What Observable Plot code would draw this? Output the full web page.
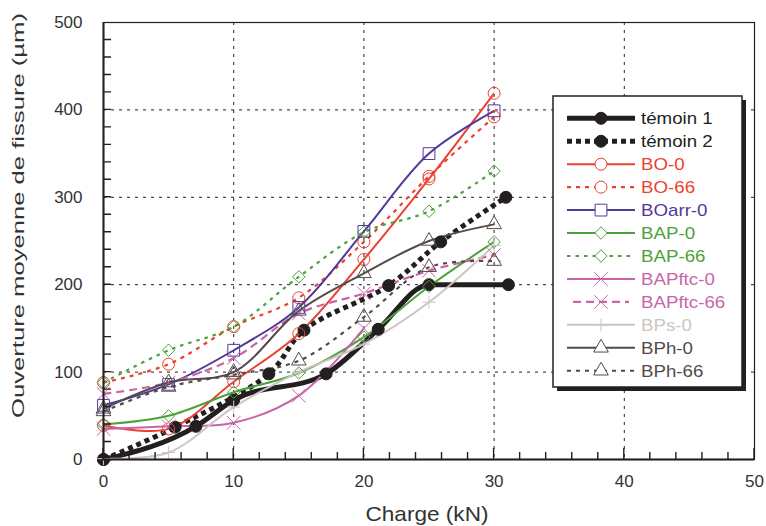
<!DOCTYPE html>
<html><head><meta charset="utf-8">
<script src="https://cdn.jsdelivr.net/npm/d3@7"></script>
<script src="https://cdn.jsdelivr.net/npm/@observablehq/plot@0.6"></script>
<style>
body{margin:0;background:#fff}
#chart{position:relative;width:766px;height:526px}
</style>
</head><body><div id="chart"></div>
<script>
// ---- data ----
const loads = [0, 5, 10, 15, 20, 25, 30];
const temoin1X = [0, 7.1, 10, 17.1, 21.1, 25, 31.1];
const temoin1Y = [0, 38, 68, 98, 149, 200, 200];
const temoin2X = [0, 5.5, 12.7, 15.4, 21.9, 25.9, 30.9];
const temoin2Y = [0, 37, 98, 148, 199, 249, 300];
const bo0 = [39, 35, 89, 144, 229, 321, 419];
const bo66 = [88, 109, 152, 185, 249, 324, 392];
const boarr0 = [62, 86, 125, 174, 261, 350, 399];
const bap0 = [40, 50, 77, 99, 140, 198, 249];
const bap66 = [88, 125, 152, 209, 260, 284, 330];
const bapftc0X = [0, 5, 10, 15, 20];
const bapftc0 = [35, 38, 42, 73, 150];
const bapftc66 = [75, 88, 116, 167, 190, 216, 234];
const bps0 = [1, 8, 60, 100, 132, 180, 245];
const bph0 = [58, 88, 100, 170, 213, 250, 269];
const bph66 = [55, 83, 97, 113, 163, 220, 227];
const seriesNames = ["témoin 1","témoin 2","BO-0","BO-66","BOarr-0","BAP-0","BAP-66","BAPftc-0","BAPftc-66","BPs-0","BPh-0","BPh-66"];
const xTicks = [0, 10, 20, 30, 40, 50];
const yTicks = [0, 100, 200, 300, 400, 500];
const xMinorTicks = [2, 4, 6, 8, 12, 14, 16, 18, 22, 24, 26, 28, 32, 34, 36, 38, 42, 44, 46, 48];
const yMinorTicks = [20, 40, 60, 80, 100, 120, 140, 160, 180, 200, 220, 240, 260, 280, 300, 320, 340, 360, 380, 400, 420, 440, 460, 480];
const xLabel = "Charge (kN)";
const yLabel = "Ouverture moyenne de fissure (µm)";

// ---- styles ----
const BLACK = "#231f20", RED = "#ec4130", PURPLE = "#52399a", GREEN = "#4ba23b",
      PINK = "#c765a8", LGREY = "#cdc5c2", DGREY = "#544a4c";
const series = [
  {xs: temoin1X, ys: temoin1Y, color: BLACK, width: 5, dash: null, symbol: "circle", r: 6, fill: BLACK, curve: "monotone-x"},
  {xs: temoin2X, ys: temoin2Y, color: BLACK, width: 5, dash: "5,4", symbol: "circle", r: 6, fill: BLACK},
  {xs: loads, ys: bo0, color: RED, width: 2, dash: null, symbol: "circle", r: 6, fill: "none"},
  {xs: loads, ys: bo66, color: RED, width: 2.2, dash: "4,5", symbol: "circle", r: 6, fill: "none"},
  {xs: loads, ys: boarr0, color: PURPLE, width: 2, dash: null, symbol: "square2", r: 7.5, fill: "none"},
  {xs: loads, ys: bap0, color: GREEN, width: 2, dash: null, symbol: "diamond2", r: 5.6, fill: "none"},
  {xs: loads, ys: bap66, color: GREEN, width: 2.2, dash: "3.5,5", symbol: "diamond2", r: 5.6, fill: "none"},
  {xs: bapftc0X, ys: bapftc0, color: PINK, width: 2, dash: null, symbol: "times", r: 6.2, fill: "none"},
  {xs: loads, ys: bapftc66, color: PINK, width: 2.2, dash: "8,5", symbol: "times", r: 6.2, fill: "none"},
  {xs: loads, ys: bps0, color: LGREY, width: 2, dash: null, symbol: "plus", r: 4.3, fill: "none"},
  {xs: loads, ys: bph0, color: DGREY, width: 2, dash: null, symbol: "triangle2", r: 7, fill: "none"},
  {xs: loads, ys: bph66, color: DGREY, width: 2.2, dash: "4,5", symbol: "triangle2", r: 7, fill: "none"}
].map((s, i) => ({...s, name: seriesNames[i]}));

const marks = [
  Plot.gridX(xTicks.slice(1, -1), {stroke: BLACK, strokeOpacity: 1, strokeWidth: 1, strokeDasharray: "3,5"}),
  Plot.gridY(yTicks.slice(1, -1), {stroke: BLACK, strokeOpacity: 1, strokeWidth: 1, strokeDasharray: "3,5"})
];
for (const s of series) {
  const rows = s.xs.map((x, i) => ({x, y: s.ys[i]}));
  marks.push(Plot.line(rows, {x: "x", y: "y", curve: s.curve || "catmull-rom", stroke: s.color, strokeWidth: s.width,
    strokeDasharray: s.dash, strokeLinecap: "butt"}));
}
for (const s of series) {
  const rows = s.xs.map((x, i) => ({x, y: s.ys[i]}));
  marks.push(Plot.dot(rows, {x: "x", y: "y", symbol: s.symbol, r: s.r, stroke: s.color, fill: s.fill, strokeWidth: 1}));
}
marks.push(
  Plot.frame({stroke: BLACK, strokeWidth: 1.2}),
  Plot.ruleX([0], {stroke: BLACK, strokeWidth: 2}),
  Plot.ruleY([0], {stroke: BLACK, strokeWidth: 2}),
  Plot.axisY(yTicks, {tickSize: 0, tickPadding: 21, fontSize: 17, fill: "#333", label: null}),
  Plot.axisX(xTicks, {tickSize: 0, tickPadding: 15, fontSize: 17, fill: "#333", label: null})
);

const svg = Plot.plot({
  width: 766, height: 526,
  marginLeft: 103, marginRight: 12, marginTop: 22, marginBottom: 67,
  x: {domain: [0, 50]},
  y: {domain: [0, 500]},
  style: {fontFamily: "'Liberation Sans', Arial, sans-serif", background: "#fff"},
  marks
});
document.getElementById("chart").appendChild(svg);

const root = d3.select(svg);
const sx = svg.scale("x"), sy = svg.scale("y");
const px = v => (sx && sx.apply) ? sx.apply(v) : 103 + v * 651 / 50;
const py = v => (sy && sy.apply) ? sy.apply(v) : 459 - v * 437 / 500;
const x0 = px(0), y0 = py(0);
// inward tick marks positioned through Plot's own scales
const tg = root.append("g").attr("stroke", BLACK).attr("stroke-width", 1.4).attr("fill", "none");
tg.append("path").attr("d",
  yMinorTicks.map(v => `M${x0},${py(v)}h8`).join("") +
  xMinorTicks.map(v => `M${px(v)},${y0}v-7`).join("") +
  xTicks.map(v => `M${px(v)},${y0}v-11`).join(""));

// axis titles
root.append("text").text(xLabel)
  .attr("x", 427).attr("y", 521).attr("text-anchor", "middle")
  .attr("font-size", 21).attr("fill", "#333")
  .attr("textLength", 123).attr("lengthAdjust", "spacingAndGlyphs");
root.append("text").text(yLabel)
  .attr("transform", "translate(24,215.5) rotate(-90)").attr("text-anchor", "middle")
  .attr("font-size", 16.5).attr("fill", "#333")
  .attr("textLength", 405).attr("lengthAdjust", "spacingAndGlyphs");

// legend
const lg = root.append("g");
lg.append("rect").attr("x", 557).attr("y", 100).attr("width", 189).attr("height", 291).attr("fill", BLACK);
lg.append("rect").attr("x", 553).attr("y", 96).attr("width", 189).attr("height", 291)
  .attr("fill", "#fff").attr("stroke", BLACK).attr("stroke-width", 1.5);
const symbolMap = {circle: d3.symbolCircle, square2: d3.symbolSquare2, diamond2: d3.symbolDiamond2,
  times: d3.symbolTimes, plus: d3.symbolPlus, triangle2: d3.symbolTriangle2};
series.forEach((s, i) => {
  const y = 118.3 + i * 22.95;
  const x1 = s.dash === "8,5" ? 573 : 567, x2 = s.dash === "8,5" ? 629 : 635;
  lg.append("line").attr("x1", x1).attr("x2", x2).attr("y1", y).attr("y2", y)
    .attr("stroke", s.color).attr("stroke-width", s.width).attr("stroke-dasharray", s.dash);
  lg.append("path").attr("transform", `translate(601,${y})`)
    .attr("d", d3.symbol(symbolMap[s.symbol], Math.PI * s.r * s.r)())
    .attr("fill", s.fill === "none" ? "#fff" : s.fill).attr("stroke", s.color).attr("stroke-width", 1);
  const t = lg.append("text").text(s.name).attr("x", 641).attr("y", y + 6)
    .attr("text-anchor", "start")
    .attr("font-size", 17).attr("fill", s.color);
  const w = t.node().getComputedTextLength();
  t.attr("textLength", w * 1.1).attr("lengthAdjust", "spacingAndGlyphs");
});
</script>
</body></html>
